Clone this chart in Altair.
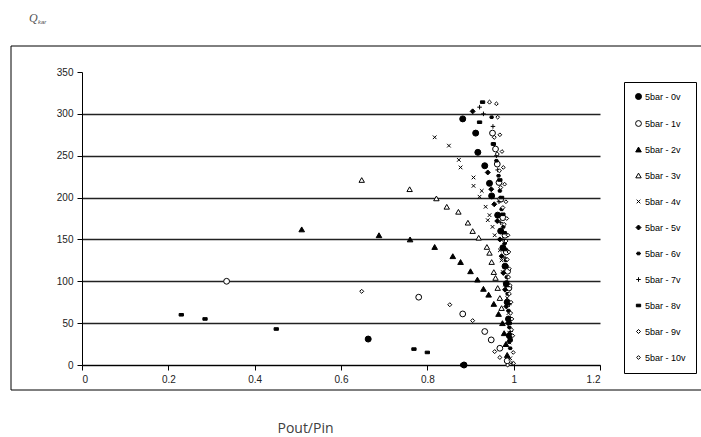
import altair as alt
import pandas as pd

series_names = ["5bar - 0v", "5bar - 1v", "5bar - 2v", "5bar - 3v", "5bar - 4v",
                "5bar - 5v", "5bar - 6v", "5bar - 7v", "5bar - 8v", "5bar - 9v", "5bar - 10v"]

x_0v = [0.663, 0.885, 0.882, 0.912, 0.917, 0.933, 0.944, 0.949, 0.963, 0.970, 0.975, 0.980, 0.983, 0.985, 0.988, 0.990]
y_0v = [31, 0, 294, 277, 254, 238, 217, 202, 179, 160, 140, 118, 97, 75, 55, 35]

x_1v = [0.335, 0.780, 0.882, 0.933, 0.948, 0.951, 0.958, 0.962, 0.966, 0.970, 0.975, 0.980, 0.983, 0.986, 0.989, 0.968, 0.985]
y_1v = [100, 81, 61, 40, 30, 277, 258, 240, 218, 198, 176, 155, 135, 112, 92, 20, 5]

x_2v = [0.509, 0.688, 0.760, 0.817, 0.859, 0.877, 0.900, 0.916, 0.930, 0.942, 0.954, 0.965, 0.974, 0.978, 0.982, 0.985]
y_2v = [162, 155, 150, 141, 130, 123, 112, 102, 91, 84, 73, 61, 50, 38, 25, 12]

x_3v = [0.648, 0.759, 0.821, 0.845, 0.872, 0.894, 0.905, 0.919, 0.938, 0.944, 0.949, 0.954, 0.958, 0.963, 0.968, 0.972]
y_3v = [221, 210, 199, 189, 183, 170, 160, 152, 141, 134, 123, 111, 104, 92, 80, 68]

x_4v = [0.817, 0.850, 0.873, 0.877, 0.907, 0.907, 0.926, 0.921, 0.935, 0.944, 0.940, 0.951, 0.956,
        0.968, 0.972, 0.975, 0.980, 0.985, 0.988, 0.990, 0.990, 0.992]
y_4v = [272, 262, 245, 236, 224, 214, 208, 201, 189, 179, 173, 165, 155,
        137, 125, 111, 96, 80, 62, 38, 27, 8]

x_5v = [0.905, 0.940, 0.948, 0.955, 0.962, 0.968, 0.972, 0.976, 0.980, 0.983, 0.987, 0.990]
y_5v = [303, 230, 210, 192, 172, 150, 130, 110, 90, 70, 50, 28]

x_6v = [0.949, 0.953, 0.960, 0.965, 0.968, 0.972, 0.976, 0.979, 0.982, 0.984, 0.986, 0.988, 0.990, 0.992]
y_6v = [296, 264, 244, 226, 208, 186, 165, 145, 125, 105, 85, 65, 45, 20]

x_7v = [0.921, 0.930, 0.952, 0.960, 0.963, 0.966, 0.970, 0.975, 0.980, 0.985, 0.990, 0.993, 0.996]
y_7v = [308, 300, 285, 250, 233, 195, 170, 150, 128, 100, 72, 40, 2]

x_8v = [0.230, 0.285, 0.450, 0.769, 0.800, 0.882, 0.928, 0.921, 0.953, 0.968, 0.972, 0.975,
        0.978, 0.980, 0.982, 0.985, 0.987, 0.990, 0.992]
y_8v = [60, 55, 43, 19, 15, 0, 314, 290, 264, 221, 200, 180, 158, 138, 118, 95, 75, 50, 30]

x_9v = [0.648, 0.852, 0.905, 0.956, 0.968, 0.986, 0.944, 0.955, 0.962, 0.967, 0.970, 0.975,
        0.978, 0.982, 0.985, 0.988, 0.990, 0.993, 0.995]
y_9v = [88, 72, 53, 16, 9, 0, 314, 272, 252, 232, 212, 188, 168, 148, 126, 105, 85, 62, 42]

x_10v = [0.960, 0.963, 0.968, 0.973, 0.976, 0.979, 0.982, 0.984, 0.987, 0.989, 0.990, 0.992,
         0.994, 0.996, 0.998, 0.999, 1.000]
y_10v = [312, 296, 275, 255, 236, 216, 195, 175, 155, 135, 115, 95, 75, 55, 35, 15, 2]

x_ticks = [0, 0.2, 0.4, 0.6, 0.8, 1, 1.2]
y_ticks = [0, 50, 100, 150, 200, 250, 300, 350]

xs_all = [x_0v, x_1v, x_2v, x_3v, x_4v, x_5v, x_6v, x_7v, x_8v, x_9v, x_10v]
ys_all = [y_0v, y_1v, y_2v, y_3v, y_4v, y_5v, y_6v, y_7v, y_8v, y_9v, y_10v]

rows = []
for name, xs, ys in zip(series_names, xs_all, ys_all):
    for a, b in zip(xs, ys):
        rows.append({"series": name, "pout_pin": a, "q": b})
df = pd.DataFrame(rows)

X_PATH = "M-0.7,-0.7L0.7,0.7M-0.7,0.7L0.7,-0.7"
PLUS_PATH = "M-1,0L1,0M0,-1L0,1"
SQLINE_PATH = "M-1,0L1,0M-0.55,-0.55L0.55,-0.55L0.55,0.55L-0.55,0.55Z"
RECT_PATH = "M-1,-0.6L1,-0.6L1,0.6L-1,0.6Z"

shapes = ["circle", "circle", "triangle-up", "triangle-up", X_PATH, "diamond",
          SQLINE_PATH, PLUS_PATH, RECT_PATH, "diamond", "diamond"]
fills = ["black", "white", "black", "white", "black", "black",
         "black", "black", "black", "white", "white"]
strokes = ["black"] * 11
sizes = [36, 14, 30, 34, 24, 24, 36, 22, 44, 20, 28]

points = alt.Chart(df).mark_point(opacity=1, strokeWidth=1).encode(
    x=alt.X("pout_pin:Q",
            scale=alt.Scale(domain=[0, 1.2], nice=False, zero=False),
            axis=alt.Axis(values=x_ticks, format="~g", title="Pout/Pin", grid=False,
                          domainColor="black", tickColor="black", tickSize=5,
                          labelFont="Liberation Sans", labelFontSize=10, labelColor="#222",
                          labelPadding=4, titleFont="Open Sans", titleFontSize=14,
                          titleFontWeight="normal", titleColor="#404040",
                          titleX=223, titleY=67, titleBaseline="alphabetic")),
    y=alt.Y("q:Q",
            scale=alt.Scale(domain=[0, 350], nice=False),
            axis=alt.Axis(values=y_ticks, title=None, grid=True,
                          gridColor=alt.condition("datum.value == 350", alt.value("transparent"), alt.value("#222222")),
                          gridWidth=1.3,
                          domainColor="black", tickColor="black", tickSize=5,
                          labelFont="Liberation Sans", labelFontSize=10, labelColor="#222",
                          labelPadding=4)),
    shape=alt.Shape("series:N", scale=alt.Scale(domain=series_names, range=shapes), title=None),
    fill=alt.Fill("series:N", scale=alt.Scale(domain=series_names, range=fills), title=None),
    stroke=alt.Stroke("series:N", scale=alt.Scale(domain=series_names, range=strokes), title=None),
    size=alt.Size("series:N", scale=alt.Scale(domain=series_names, range=sizes), title=None),
)

one = pd.DataFrame({"a": [0]})
frame = alt.Chart(one).mark_rect(fill="transparent", stroke="black", strokeWidth=1).encode(
    x=alt.value(-71), y=alt.value(-26), x2=alt.value(625), y2=alt.value(318)
)
q_text = alt.Chart(one).mark_text(text="Q", font="Liberation Serif", fontStyle="italic",
                                  fontSize=12, color="#555", align="left", baseline="alphabetic").encode(
    x=alt.value(-53), y=alt.value(-50)
)
kar_text = alt.Chart(one).mark_text(text="kar", font="Liberation Sans", fontStyle="italic",
                                    fontSize=6, color="#555", align="left", baseline="alphabetic").encode(
    x=alt.value(-44), y=alt.value(-48)
)

chart = alt.layer(frame, points, q_text, kar_text).properties(
    width=518, height=293,
    autosize=alt.AutoSizeParams(type="none"),
    padding={"left": 82, "top": 72, "right": 101, "bottom": 72},
).configure_view(stroke=None).configure_legend(
    orient="none", legendX=542, legendY=10,
    strokeColor="black", fillColor="white", padding=10,
    labelFont="Liberation Sans", labelFontSize=9, labelColor="black",
    rowPadding=16, labelOffset=2, symbolStrokeWidth=1,
    symbolOpacity=1,
)

chart.save("out.html", embed_options={"renderer": "svg", "actions": False})
